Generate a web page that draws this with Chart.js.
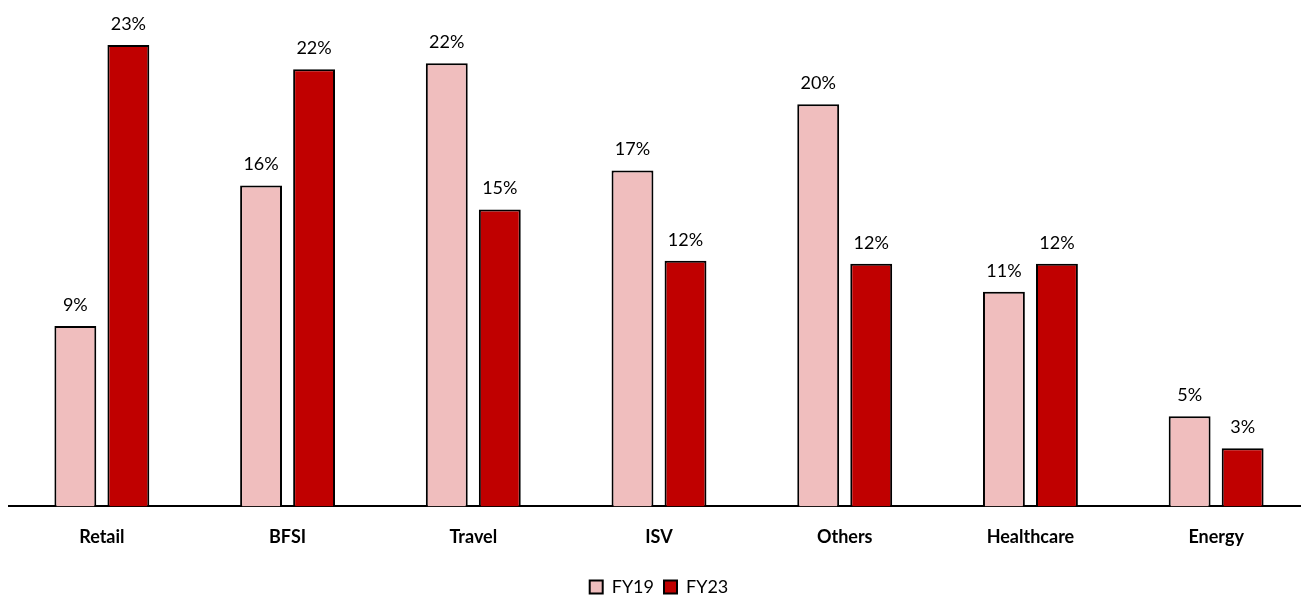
<!DOCTYPE html>
<html lang="en">
<head>
    <meta charset="UTF-8">
    <title>FY19 vs FY23</title>
    <script src="https://cdn.jsdelivr.net/npm/chart.js"></script>
    <style>
        html, body { margin: 0; padding: 0; background: #fff; overflow: hidden; }
        .wrap { width: 1309px; height: 597px; }
    </style>
</head>
<body>
<div class="wrap"><canvas id="chart"></canvas></div>
<script>
    const categories = ["Retail", "BFSI", "Travel", "ISV", "Others", "Healthcare", "Energy"];
    const fy19 = [9, 16, 22.1, 16.75, 20.05, 10.7, 4.5];
    const fy23 = [23, 21.8, 14.8, 12.25, 12.1, 12.1, 2.9];

    // draws the % label above each bar
    const valueLabels = {
        id: 'valueLabels',
        afterDatasetsDraw(chart) {
            const ctx = chart.ctx;
            ctx.save();
            ctx.font = '18px Lato, "Open Sans", sans-serif';
            ctx.fillStyle = '#000';
            ctx.textAlign = 'center';
            ctx.textBaseline = 'bottom';
            chart.data.datasets.forEach((ds, i) => {
                chart.getDatasetMeta(i).data.forEach((bar, j) => {
                    ctx.fillText(Math.round(ds.data[j]) + '%', bar.x, bar.y - 12);
                });
            });
            ctx.restore();
        }
    };

    new Chart(document.getElementById("chart"), {
        type: "bar",
        data: {
            labels: categories,
            datasets: [
                {
                    label: "FY19",
                    data: fy19,
                    backgroundColor: "#F0BEBE",
                    borderColor: "#000",
                    borderWidth: 2
                },
                {
                    label: "FY23",
                    data: fy23,
                    backgroundColor: "#C00000",
                    borderColor: "#000",
                    borderWidth: 2
                }
            ]
        },
        options: {
            responsive: true,
            maintainAspectRatio: false,
            animation: false,
            categoryPercentage: 0.571,
            barPercentage: 0.79,
            layout: { padding: { top: 5, left: 9, right: 0, bottom: -9 } },
            plugins: {
                legend: {
                    position: 'bottom',
                    labels: {
                        boxWidth: 13,
                        boxHeight: 13,
                        color: '#000',
                        padding: 10,
                        font: { size: 18, family: 'Lato, "Open Sans", sans-serif' }
                    }
                },
                tooltip: { enabled: false }
            },
            scales: {
                x: {
                    grid: { display: false, drawTicks: false },
                    border: { color: '#000', width: 2 },
                    ticks: {
                        color: '#000',
                        padding: 20,
                        font: { size: 18, weight: 'bold', family: 'Lato, "Open Sans", sans-serif' }
                    }
                },
                y: {
                    display: false,
                    min: 0,
                    max: 25
                }
            }
        },
        plugins: [valueLabels]
    });
</script>
</body>
</html>
